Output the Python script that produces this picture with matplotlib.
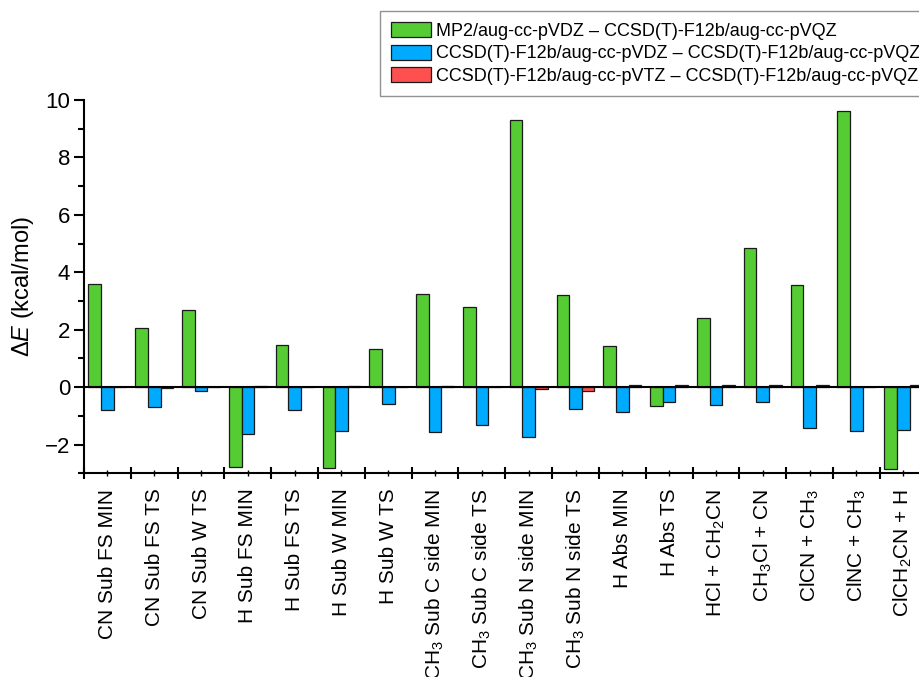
import numpy as np
import matplotlib
matplotlib.use("Agg")
import matplotlib.pyplot as plt
from matplotlib.ticker import FixedLocator, MultipleLocator

plt.rcParams['font.family'] = ['Liberation Sans', 'DejaVu Sans']
plt.rcParams['mathtext.fontset'] = 'custom'
plt.rcParams['mathtext.rm'] = 'Liberation Sans'
plt.rcParams['mathtext.it'] = 'Liberation Sans:italic'
plt.rcParams['mathtext.bf'] = 'Liberation Sans:bold'

categories = [
    "CN Sub FS MIN", "CN Sub FS TS", "CN Sub W TS", "H Sub FS MIN",
    "H Sub FS TS", "H Sub W MIN", "H Sub W TS",
    "CH$_3$ Sub C side MIN", "CH$_3$ Sub C side TS",
    "CH$_3$ Sub N side MIN", "CH$_3$ Sub N side TS",
    "H Abs MIN", "H Abs TS", "HCl + CH$_2$CN", "CH$_3$Cl + CN",
    "ClCN + CH$_3$", "ClNC + CH$_3$", "ClCH$_2$CN + H",
]
mp2_dz = [3.58, 2.05, 2.68, -2.77, 1.48, -2.81, 1.34, 3.26, 2.79, 9.30,
          3.20, 1.45, -0.66, 2.42, 4.86, 3.57, 9.63, -2.85]
f12_dz = [-0.79, -0.70, -0.12, -1.63, -0.81, -1.52, -0.58, -1.55, -1.31, -1.74,
          -0.75, -0.85, -0.52, -0.61, -0.52, -1.43, -1.52, -1.50]
f12_tz = [0.01, -0.02, 0.01, 0.03, 0.02, 0.03, 0.02, 0.03, 0.01, -0.05,
          -0.13, 0.08, 0.06, 0.08, 0.06, 0.07, -0.01, 0.06]
series_labels = [
    "MP2/aug-cc-pVDZ \u2013 CCSD(T)-F12b/aug-cc-pVQZ",
    "CCSD(T)-F12b/aug-cc-pVDZ \u2013 CCSD(T)-F12b/aug-cc-pVQZ",
    "CCSD(T)-F12b/aug-cc-pVTZ \u2013 CCSD(T)-F12b/aug-cc-pVQZ",
]
colors = ["#55CC33", "#00AAFF", "#FF5050"]

W, H = 919, 677
fig = plt.figure(figsize=(W / 100, H / 100), dpi=100)
left, right, top, bottom = 84, 926.6, 100, 473.3
ax = fig.add_axes([left / W, 1 - bottom / H, (right - left) / W, (bottom - top) / H])

x = np.arange(len(categories))
bw = 0.27
for i, (vals, lab, col) in enumerate(zip([mp2_dz, f12_dz, f12_tz], series_labels, colors)):
    ax.bar(x + (i - 1) * bw, vals, width=bw, color=col, edgecolor="#1a1a1a",
           linewidth=0.9, label=lab, zorder=2)

ax.axhline(0, color="black", linewidth=1.5, zorder=3)
ax.set_xlim(-0.5, len(categories) - 0.5)
ax.set_ylim(-3, 10)

for s in ["top", "right"]:
    ax.spines[s].set_visible(False)
for s in ["left", "bottom"]:
    ax.spines[s].set_linewidth(1.5)

ax.set_xticks(x)
ax.set_xticklabels(categories, rotation=90, fontsize=15)
ax.xaxis.set_minor_locator(FixedLocator(np.arange(-0.5, len(categories), 1.0)))
ax.tick_params(axis="x", which="major", direction="inout", length=4, width=1.0, pad=9)
ax.tick_params(axis="x", which="minor", direction="inout", length=9, width=1.5)

ax.yaxis.set_major_locator(MultipleLocator(2))
ax.yaxis.set_minor_locator(MultipleLocator(1))
ax.tick_params(axis="y", which="major", direction="out", length=7, width=1.5, labelsize=16, pad=3)
ax.tick_params(axis="y", which="minor", direction="out", length=4, width=1.5)

ax.set_ylabel("\u0394$\\it{E}$ (kcal/mol)", fontsize=17, labelpad=6)

leg = fig.legend(loc="upper left", bbox_to_anchor=(380 / W, 1 - 11 / H),
                 fontsize=13, frameon=True, fancybox=False, shadow=False,
                 edgecolor="#777777", handlelength=2.2, handleheight=0.9,
                 handletextpad=0.3, labelspacing=0.28, borderpad=0.6,
                 borderaxespad=0)
leg.get_frame().set_linewidth(1.0)

fig.savefig("out.png", dpi=100)
